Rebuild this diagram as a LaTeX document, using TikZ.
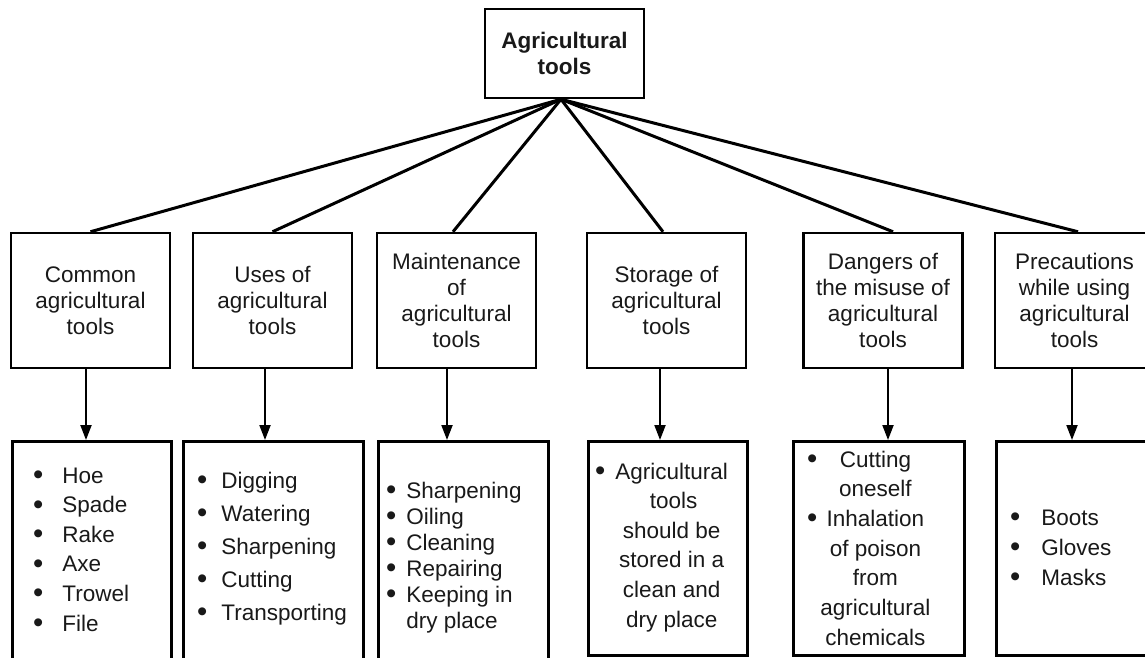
\documentclass[tikz,border=0pt]{standalone}
\usepackage{fontspec}
\setmainfont{Liberation Sans}
\usetikzlibrary{arrows.meta,positioning}
\newcommand{\dotmark}{\raisebox{-1.5pt}{\scalebox{1.3}{\textbullet}}}

\begin{document}
\begin{tikzpicture}[x=1pt,y=-1pt,
    every node/.style={font=\fontsize{22.5}{26}\selectfont, text=black!90},
    topic/.style={draw, line width=2.5pt, minimum width=159pt, minimum height=135pt,
                  align=center, inner sep=0pt},
    listbox/.style={draw, line width=2.5pt, anchor=north west, inner sep=0pt},
    items/.style={anchor=base west, inner sep=0pt},
    spoke/.style={line width=3pt},
    arr/.style={-{Triangle[length=15pt,width=11pt]}, line width=2pt}
  ]
  \useasboundingbox (0,0) rectangle (1145,657);
  % Main box
  \node[draw, line width=2.5pt, minimum width=159pt, minimum height=89pt,
        align=center, font=\fontsize{22.5}{26}\selectfont\bfseries]
    (root) at (564.5,53.5) {Agricultural\\tools};
  % Topics
  \node[topic] (c1) at (90.5,300.5) {Common\\agricultural\\tools};
  \node[topic] (c2) at (272.5,300.5) {Uses of\\agricultural\\tools};
  \node[topic] (c3) at (456.5,300.5) {Maintenance\\of\\agricultural\\tools};
  \node[topic] (c4) at (666.5,300.5) {Storage of\\agricultural\\tools};
  \node[topic] (c5) at (883,300.5) {Dangers of\\the misuse of\\agricultural\\tools};
  \node[topic] (c6) at (1074.5,300.5) {Precautions\\while using\\agricultural\\tools};
  % Detail boxes
  \node[listbox, minimum width=159pt, minimum height=260pt] (l1) at (11,440) {};
  \node[listbox, minimum width=180pt, minimum height=260pt] (l2) at (182,440) {};
  \node[listbox, minimum width=170pt, minimum height=260pt] (l3) at (377,440) {};
  \node[listbox, minimum width=159pt, minimum height=214pt] (l4) at (587,440) {};
  \node[listbox, minimum width=171pt, minimum height=214pt] (l5) at (792,440) {};
  \node[listbox, minimum width=159pt, minimum height=214pt] (l6) at (995,440) {};
  % Lists
  \node[items] (t1) at (33,483) {\fontsize{22.5}{29.6}\selectfont
    \begin{tabular}[t]{@{}c@{\hspace{19pt}}l@{}}
      \dotmark & Hoe\\ \dotmark & Spade\\ \dotmark & Rake\\
      \dotmark & Axe\\ \dotmark & Trowel\\ \dotmark & File
    \end{tabular}};
  \node[items] (t2) at (197,488) {\fontsize{22.5}{33}\selectfont
    \begin{tabular}[t]{@{}c@{\hspace{14pt}}l@{}}
      \dotmark & Digging\\ \dotmark & Watering\\ \dotmark & Sharpening\\
      \dotmark & Cutting\\ \dotmark & Transporting
    \end{tabular}};
  \node[items] (t3) at (386,498) {\fontsize{22.5}{26}\selectfont
    \begin{tabular}[t]{@{}c@{\hspace{10pt}}l@{}}
      \dotmark & Sharpening\\ \dotmark & Oiling\\ \dotmark & Cleaning\\
      \dotmark & Repairing\\ \dotmark & Keeping in\\ & dry place
    \end{tabular}};
  \node[items] (t4) at (595,479) {\fontsize{22.5}{29.6}\selectfont
    \begin{tabular}[t]{@{}c@{\hspace{10pt}}c@{}}
      \dotmark & Agricultural\\ & \hspace*{4pt}tools\hfill\\ & should be\\
      & stored in a\\ & clean and\\ & dry place
    \end{tabular}};
  \node[items] (t5) at (807,467) {\fontsize{22.5}{29.7}\selectfont
    \begin{tabular}[t]{@{}c@{\hspace{3pt}}c@{}}
      \dotmark & Cutting\\ & oneself\\ \dotmark & Inhalation\\
      & of poison\\ & from\\ & agricultural\\ & chemicals
    \end{tabular}};
  \node[items] (t6) at (1010,525) {\fontsize{22.5}{30}\selectfont
    \begin{tabular}[t]{@{}c@{\hspace{21pt}}l@{}}
      \dotmark & Boots\\ \dotmark & Gloves\\ \dotmark & Masks
    \end{tabular}};
  % Connectors
  \foreach \i/\ex/\dx in {1/0/-4.5,2/0/-7.5,3/-3.5/-9.5,4/-3.5/-6.5,5/10/5,6/3.5/-2.5}{
    \draw[spoke] ([xshift=-3.5pt]root.south) -- ([xshift=\ex pt]c\i.north);
    \draw[arr] ([xshift=\dx pt]c\i.south) -- ([xshift=\dx pt]c\i.south |- l\i.north);
  }
\end{tikzpicture}
\end{document}
